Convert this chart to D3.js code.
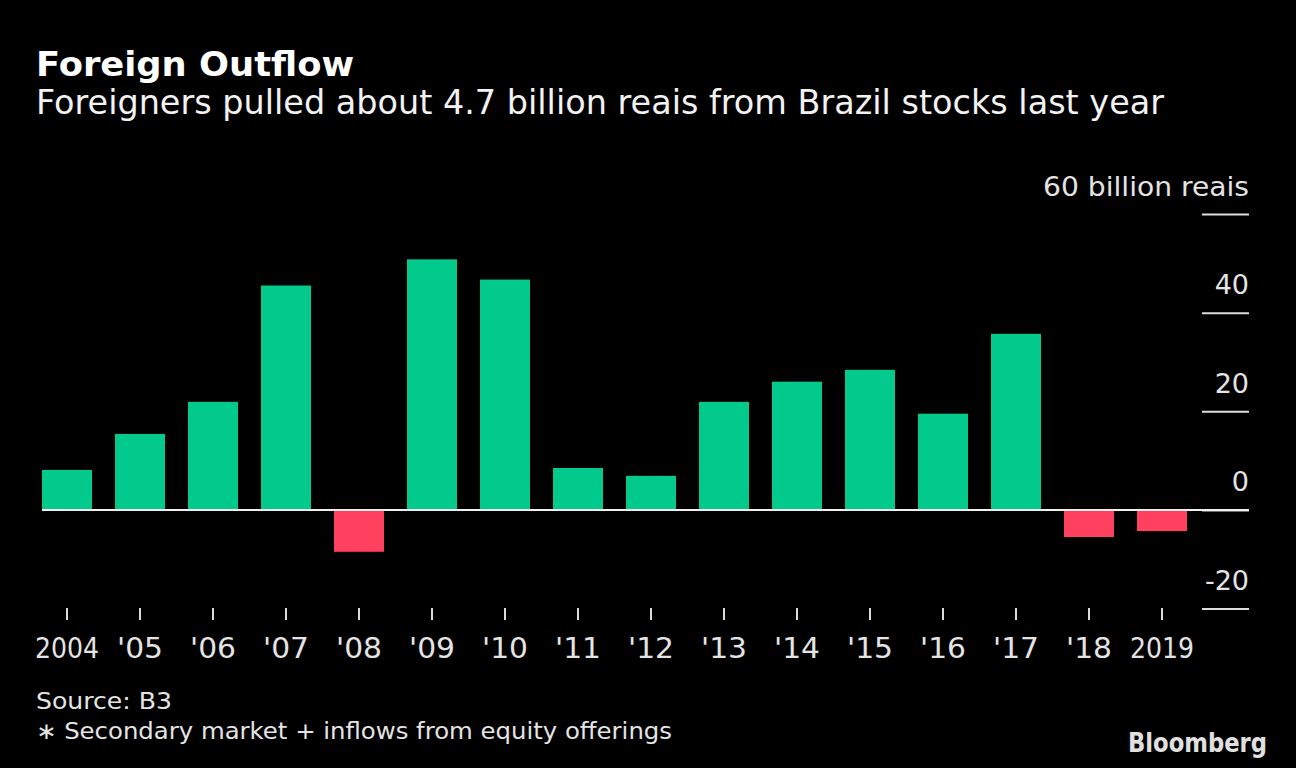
<!DOCTYPE html>
<html>
<head>
<meta charset="utf-8">
<script src="https://cdn.jsdelivr.net/npm/d3@7"></script>
<style>
  html, body { margin: 0; padding: 0; background: #000; }
  svg { display: block; }
  text { font-family: "DejaVu Sans", "Noto Sans", sans-serif; }
</style>
</head>
<body>
<svg id="chart" width="1296" height="768"></svg>
<script>
const years = ["2004", "'05", "'06", "'07", "'08", "'09", "'10", "'11", "'12", "'13", "'14", "'15", "'16", "'17", "'18", "2019"];
const flows = [8.1, 15.4, 21.9, 45.5, -8.5, 50.8, 46.7, 8.5, 6.9, 21.9, 26.0, 28.4, 19.5, 35.7, -5.5, -4.3];
const yTicks = [-20, 0, 20, 40, 60];
const yTickLabels = ["-20", "0", "20", "40", "60 billion reais"];

const title = "Foreign Outflow";
const subtitle = "Foreigners pulled about 4.7 billion reais from Brazil stocks last year";
const source = "Source: B3";
const note = "\u2217 Secondary market + inflows from equity offerings";

const GREEN = "#02c98c";
const RED = "#ff405f";
const TEXT = "#e4e4e4";

const svg = d3.select("#chart");
svg.append("rect").attr("width", 1296).attr("height", 768).attr("fill", "#000");

const x = d3.scaleBand().domain(years).range([42, 1187]).paddingInner(23 / 73).paddingOuter(0);
const y = d3.scaleLinear().domain([-20, 60]).range([608.5, 214]);

// Title & subtitle
svg.append("text").attr("x", 36).attr("y", 76)
  .attr("font-size", 34).attr("font-weight", "bold").attr("fill", "#fff")
  .attr("textLength", 318).attr("lengthAdjust", "spacingAndGlyphs")
  .text(title);
svg.append("text").attr("x", 36).attr("y", 114)
  .attr("font-size", 33).attr("fill", "#f2f2f2")
  .attr("textLength", 1128).attr("lengthAdjust", "spacingAndGlyphs")
  .text(subtitle);

// Right axis: short gridlines and labels
const yAxis = d3.axisRight(y).tickValues(yTicks).tickSize(0).tickFormat("");
const gy = svg.append("g").attr("transform", "translate(1202,0)").call(yAxis);
gy.select(".domain").remove();
gy.selectAll(".tick").append("line")
  .attr("x1", 0).attr("x2", 47).attr("stroke", "#dcdcdc").attr("stroke-width", 2);
gy.selectAll(".tick").append("text")
  .attr("x", 47).attr("y", -19)
  .attr("text-anchor", "end")
  .attr("font-size", 27).attr("fill", TEXT)
  .each(function (d) {
    const t = d3.select(this);
    const lbl = yTickLabels[yTicks.indexOf(d)];
    t.text(lbl);
    if (lbl.length > 5) t.attr("textLength", 206).attr("lengthAdjust", "spacingAndGlyphs");
  });

// Bars
svg.append("g").selectAll("rect").data(flows).join("rect")
  .attr("x", (d, i) => x(years[i]))
  .attr("width", x.bandwidth())
  .attr("y", d => y(Math.max(0, d)))
  .attr("height", d => Math.abs(y(d) - y(0)))
  .attr("fill", d => d >= 0 ? GREEN : RED);

// Zero line
svg.append("line")
  .attr("x1", 42).attr("x2", 1249)
  .attr("y1", y(0)).attr("y2", y(0))
  .attr("stroke", "#f0f0f0").attr("stroke-width", 2);

// Bottom axis
const xAxis = d3.axisBottom(x).tickSize(12).tickPadding(18);
const gx = svg.append("g").attr("transform", "translate(0,608)").call(xAxis);
gx.select(".domain").remove();
gx.selectAll(".tick line").attr("stroke", "#dcdcdc").attr("stroke-width", 2);
gx.selectAll(".tick text")
  .attr("font-size", 28).attr("fill", TEXT)
  .attr("font-family", "DejaVu Sans, sans-serif")
  .attr("dy", null).attr("y", 50)
  .attr("textLength", d => (d.length === 4 ? 64 : 46))
  .attr("lengthAdjust", "spacingAndGlyphs");

// Footer
svg.append("text").attr("x", 36).attr("y", 709)
  .attr("font-size", 23).attr("fill", TEXT)
  .attr("textLength", 136).attr("lengthAdjust", "spacingAndGlyphs")
  .text(source);
svg.append("text").attr("x", 36).attr("y", 739)
  .attr("font-size", 23).attr("fill", TEXT)
  .attr("textLength", 636).attr("lengthAdjust", "spacingAndGlyphs")
  .text(note);

svg.append("text").attr("x", 1128).attr("y", 752)
  .attr("font-size", 27).attr("font-weight", "bold").attr("fill", "#e0e0e0")
  .attr("font-family", "Liberation Sans, Arial, sans-serif")
  .attr("textLength", 139).attr("lengthAdjust", "spacingAndGlyphs")
  .text("Bloomberg");
</script>
</body>
</html>
